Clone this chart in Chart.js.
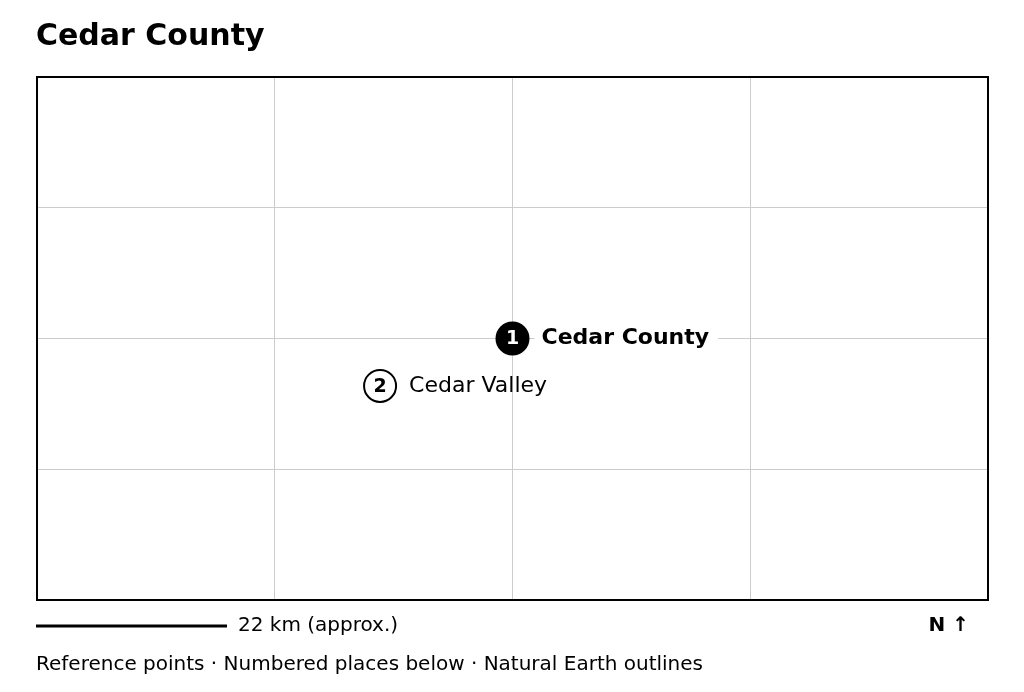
<!DOCTYPE html>
<html><head><meta charset="utf-8">
<script src="https://cdn.jsdelivr.net/npm/chart.js@4"></script>
<style>html,body{margin:0;padding:0;background:#fff}#c{display:block}</style>
</head><body>
<canvas id="c" width="1024" height="692"></canvas>
<script>
const names = ["Cedar County", "Cedar Valley"];
const xs = [2.0, 1.443];
const ys = [2.0, 1.637];
const primary = [true, false];
const FONT = "'DejaVu Sans', sans-serif";

const decor = {
  id: "decor",
  afterDraw(chart) {
    const ctx = chart.ctx, a = chart.chartArea;
    const sx = chart.scales.x, sy = chart.scales.y;
    ctx.save();
    // frame
    ctx.strokeStyle = "#000"; ctx.lineWidth = 2;
    ctx.strokeRect(a.left, a.top, a.right - a.left, a.bottom - a.top);
    // title
    ctx.fillStyle = "#000"; ctx.textBaseline = "middle"; ctx.textAlign = "left";
    ctx.font = "bold 30px " + FONT;
    ctx.fillText("Cedar County", 36, 37);
    // points and labels
    names.forEach((n, i) => {
      const px = sx.getPixelForValue(xs[i]), py = sy.getPixelForValue(ys[i]);
      ctx.font = (primary[i] ? "bold " : "") + "22px " + FONT;
      const w = ctx.measureText(n).width;
      if (primary[i]) { ctx.fillStyle = "#fff"; ctx.fillRect(px + 22, py - 14, w + 16, 28); }
      ctx.beginPath(); ctx.arc(px, py, 16, 0, Math.PI * 2);
      ctx.fillStyle = primary[i] ? "#000" : "#fff"; ctx.fill();
      ctx.lineWidth = 2; ctx.strokeStyle = "#000"; ctx.stroke();
      ctx.textAlign = "center"; ctx.font = "bold 19px " + FONT;
      ctx.fillStyle = primary[i] ? "#fff" : "#000";
      ctx.fillText(String(i + 1), px, py + 1);
      ctx.textAlign = "left"; ctx.fillStyle = "#000";
      ctx.font = (primary[i] ? "bold " : "") + "22px " + FONT;
      ctx.fillText(n, px + 29, py);
    });
    // scale bar
    ctx.beginPath(); ctx.moveTo(36, 626); ctx.lineTo(227, 626); ctx.lineWidth = 3; ctx.stroke();
    ctx.font = "20px " + FONT;
    ctx.fillText("22 km (approx.)", 238, 626);
    ctx.font = "bold 20px " + FONT; ctx.textAlign = "right";
    ctx.fillText("N \u2191", 969, 626);
    ctx.textAlign = "left"; ctx.font = "20px " + FONT;
    ctx.fillText("Reference points \u00b7 Numbered places below \u00b7 Natural Earth outlines", 36, 665);
    ctx.restore();
  }
};

new Chart(document.getElementById("c"), {
  type: "scatter",
  data: { datasets: [{ data: xs.map((x, i) => ({ x, y: ys[i] })), pointRadius: 0 }] },
  options: {
    responsive: false, animation: false,
    layout: { padding: { left: 37, right: 36, top: 77, bottom: 92 } },
    plugins: { legend: { display: false }, tooltip: { enabled: false } },
    scales: {
      x: { min: 0, max: 4, ticks: { display: false, stepSize: 1 }, border: { display: false }, grid: { color: "#cccccc", drawTicks: false } },
      y: { min: 0, max: 4, ticks: { display: false, stepSize: 1 }, border: { display: false }, grid: { color: "#cccccc", drawTicks: false } }
    }
  },
  plugins: [decor]
});
</script>
</body></html>
